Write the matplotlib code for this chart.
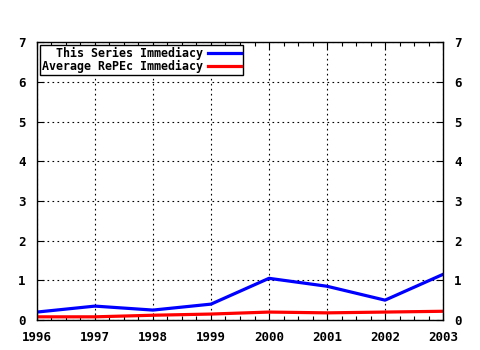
import matplotlib
matplotlib.use("Agg")
import matplotlib.pyplot as plt
from matplotlib.ticker import MultipleLocator

years = [1996, 1997, 1998, 1999, 2000, 2001, 2002, 2003]
series_immediacy = [0.20, 0.35, 0.25, 0.40, 1.05, 0.85, 0.50, 1.15]
repec_immediacy = [0.08, 0.08, 0.12, 0.15, 0.20, 0.18, 0.20, 0.22]
y_ticks = [0, 1, 2, 3, 4, 5, 6, 7]

plt.rcParams["font.family"] = "DejaVu Sans Mono"
plt.rcParams["font.weight"] = "bold"
plt.rcParams["font.size"] = 9

fig = plt.figure(figsize=(4.8, 3.5), dpi=100)
ax = fig.add_axes([0.077, 0.0857, 0.846, 0.794])

ax.plot(years, series_immediacy, color="#0000ff", lw=2.3, label="This Series Immediacy")
ax.plot(years, repec_immediacy, color="#ff0000", lw=2.3, label="Average RePEc Immediacy")

ax.set_xlim(1996, 2003)
ax.set_ylim(0, 7)
ax.set_xticks(years)
ax.set_yticks(y_ticks)
ax.xaxis.set_minor_locator(MultipleLocator(0.25))

ax.grid(True, which="major", color="black", linestyle=(0, (1.5, 3)), linewidth=0.8)
ax.tick_params(which="both", direction="in", top=True, right=True,
               labelright=True, width=0.8, color="black")
ax.tick_params(which="major", length=5)
ax.tick_params(which="minor", length=3)
ax.tick_params(axis="x", pad=8)
ax.tick_params(axis="y", pad=8)
for spine in ax.spines.values():
    spine.set_linewidth(1.0)
    spine.set_color("black")

leg = ax.legend(loc="upper left", markerfirst=False, fancybox=False,
                framealpha=1, edgecolor="black", handlelength=2.8,
                borderpad=0.15, labelspacing=0.0, handletextpad=0.5,
                borderaxespad=0.25, prop={"size": 8.4, "weight": "bold"})
leg.get_frame().set_linewidth(1.0)
for t in leg.get_texts():
    t.set_ha("right")

fig.savefig("out.png", dpi=100)
